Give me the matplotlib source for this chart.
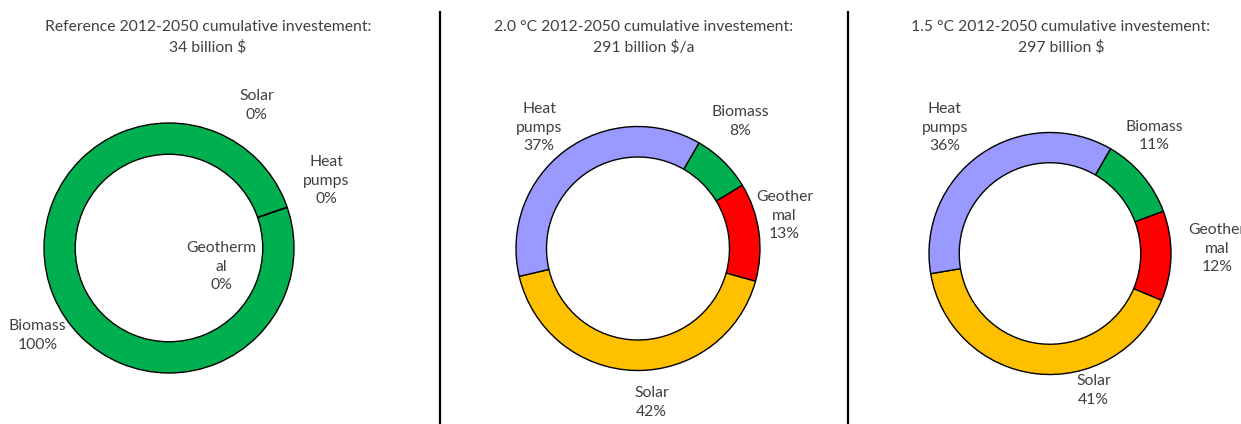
import matplotlib.pyplot as plt

# shares in %, clockwise order of the ring
categories = ['Biomass', 'Geothermal', 'Solar', 'Heat pumps']
ref_share = [100, 0, 0, 0]
deg20_share = [8, 13, 42, 37]
deg15_share = [11, 12, 41, 36]

titles = ['Reference 2012-2050 cumulative investement:\n34 billion $',
          '2.0 °C 2012-2050 cumulative investement:\n291 billion $/a',
          '1.5 °C 2012-2050 cumulative investement:\n297 billion $']

# how the category names are wrapped in each panel
label_names = [
    {'Biomass': 'Biomass', 'Geothermal': 'Geotherm\nal', 'Solar': 'Solar', 'Heat pumps': 'Heat\npumps'},
    {'Biomass': 'Biomass', 'Geothermal': 'Geother\nmal', 'Solar': 'Solar', 'Heat pumps': 'Heat\npumps'},
    {'Biomass': 'Biomass', 'Geothermal': 'Geother\nmal', 'Solar': 'Solar', 'Heat pumps': 'Heat\npumps'},
]

colors = {'Biomass': '#00B050', 'Geothermal': '#FF0000', 'Solar': '#FFC000', 'Heat pumps': '#9999FF'}

# layout (pixels in a 1241x424 canvas)
W, H = 1241, 424
centers = [(169, 248, 125), (638, 248.5, 122), (1050, 253.5, 121)]
title_x = [208, 644, 1061]
start_angles = [19, 60, 60]  # matplotlib degrees, clockwise drawing
label_pos = [
    {'Solar': (0.70, 1.14), 'Heat pumps': (1.26, 0.54), 'Geothermal': (0.42, -0.15), 'Biomass': (-1.05, -0.70)},
    {'Heat pumps': (-0.81, 0.99), 'Biomass': (0.84, 1.04), 'Geothermal': (1.20, 0.27), 'Solar': (0.11, -1.26)},
    {'Heat pumps': (-0.87, 1.04), 'Biomass': (0.86, 0.97), 'Geothermal': (1.38, 0.04), 'Solar': (0.36, -1.13)},
]

text_color = '#404040'
font = 'Lato'

fig = plt.figure(figsize=(W / 100, H / 100), dpi=100)
fig.patch.set_facecolor('white')

shares = [ref_share, deg20_share, deg15_share]
half = 200  # half size of each axes, px

for i, (cx, cy, R) in enumerate(centers):
    ax = fig.add_axes([(cx - half) / W, (H - cy - half) / H, 2 * half / W, 2 * half / H])

    ax.pie(shares[i], colors=[colors[c] for c in categories], radius=1,
           startangle=start_angles[i], counterclock=False,
           wedgeprops=dict(width=0.25, edgecolor='black', linewidth=1))
    # pie resets the limits, so scale afterwards
    ax.set_xlim(-half / R, half / R)
    ax.set_ylim(-half / R, half / R)
    ax.set_aspect('equal')
    ax.axis('off')

    for c, v in zip(categories, shares[i]):
        x, y = label_pos[i][c]
        ax.text(x, y, f'{label_names[i][c]}\n{v}%', ha='center', va='center',
                fontsize=11.3, color=text_color, family=font, linespacing=1.42,
                clip_on=False)

    fig.text(title_x[i] / W, 1 - 37 / H, titles[i], ha='center', va='center',
             fontsize=11.3, color=text_color, family=font, linespacing=1.48)

# separators between the panels
for xp in [440, 848]:
    fig.add_artist(plt.Line2D([xp / W, xp / W], [0, 1 - 12 / H], color='black', linewidth=1.6))

fig.savefig('out.png', dpi=100)
